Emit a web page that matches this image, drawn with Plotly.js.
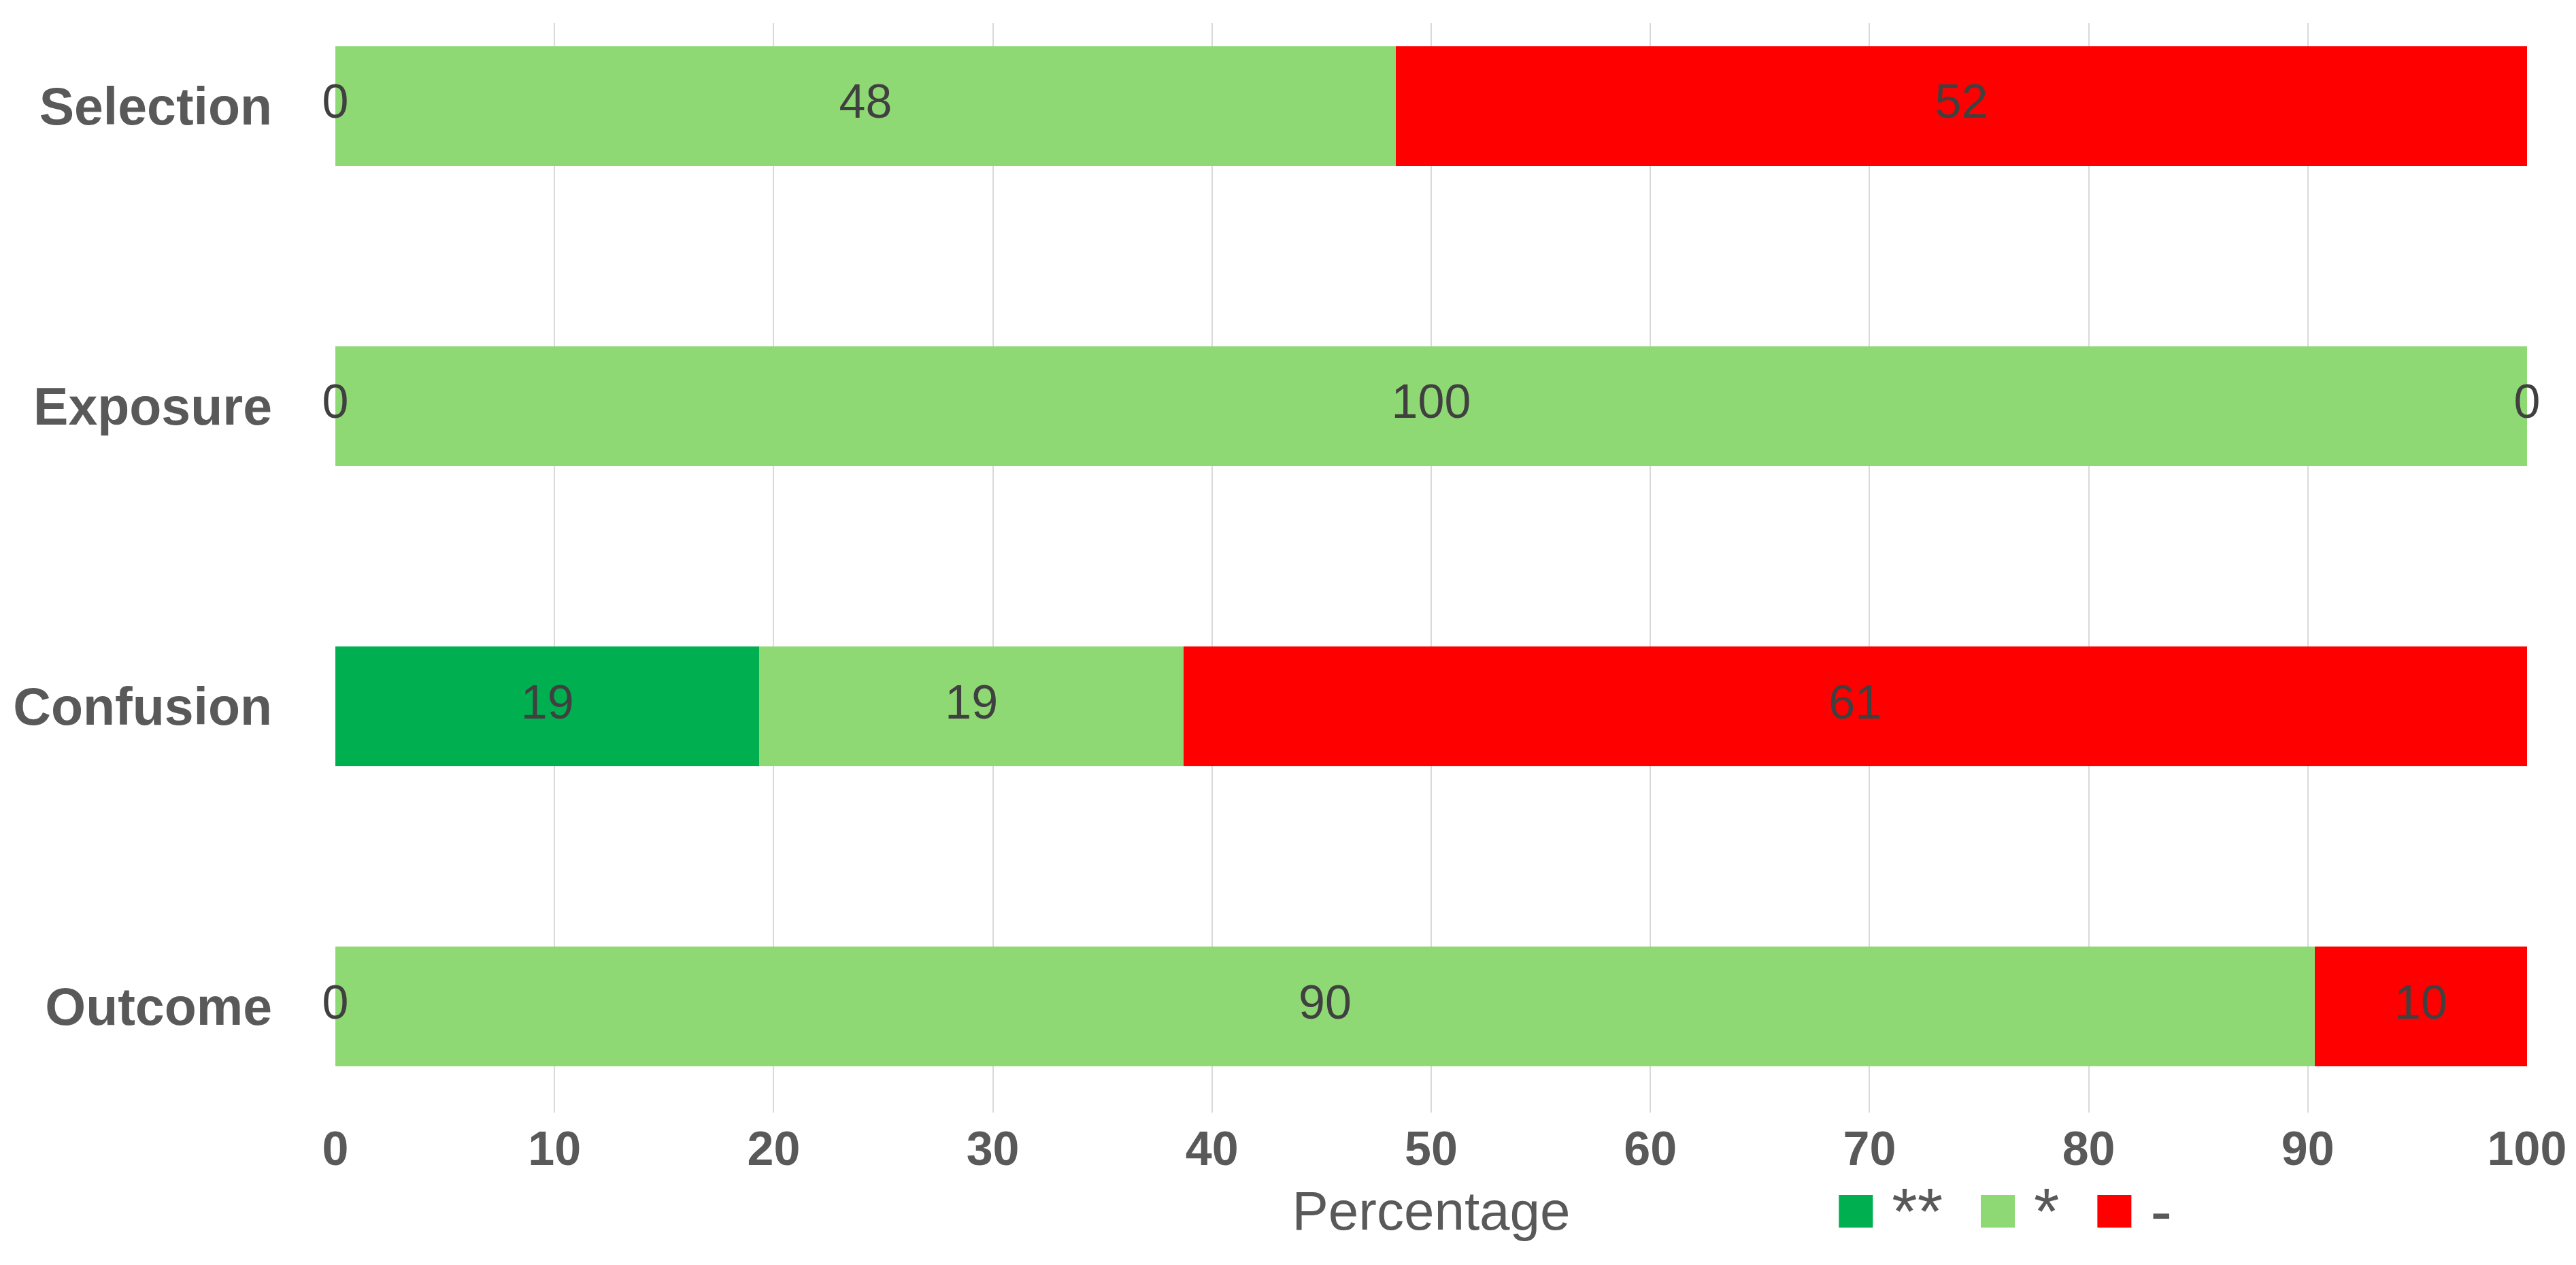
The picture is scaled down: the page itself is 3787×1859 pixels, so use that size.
<!DOCTYPE html>
<html>
<head>
<meta charset="utf-8">
<script src="https://cdn.plot.ly/plotly-3.0.1.min.js"></script>
<style>html,body{margin:0;padding:0;background:#fff;}#chart{width:3787px;height:1859px;}</style>
</head>
<body>
<div id="chart"></div>
<script>
// Categories (top to bottom)
var categories = ['Selection', 'Exposure', 'Confusion', 'Outcome'];
// Series names (legend) and percentages per series
var seriesNames = ['**', '*', '-'];
var twoStars = [0, 0, 19.35, 0];
var oneStar = [48.39, 100, 19.35, 90.32];
var dash = [51.61, 0, 61.29, 9.68];
var xTicks = [0, 10, 20, 30, 40, 50, 60, 70, 80, 90, 100];

var colors = ['#00b050', '#8fd975', '#ff0000'];
var seriesValues = [twoStars, oneStar, dash];

var traces = [];
seriesValues.forEach(function (vals, i) {
  traces.push({
    type: 'bar',
    orientation: 'h',
    name: seriesNames[i],
    y: categories,
    x: vals,
    marker: {color: colors[i], line: {width: 0}},
    hoverinfo: 'x+y+name'
  });
});

// Data labels centred on each segment (including zero-width segments)
var labelX = [], labelY = [], labelT = [];
categories.forEach(function (c, j) {
  var base = 0;
  seriesValues.forEach(function (vals) {
    labelX.push(base + vals[j] / 2);
    labelY.push(c);
    labelT.push(String(Math.round(vals[j])));
    base += vals[j];
  });
});
traces.push({
  type: 'scatter',
  mode: 'text',
  x: labelX,
  y: labelY,
  text: labelT,
  textposition: 'middle center',
  textfont: {family: 'Liberation Sans, Arial, sans-serif', size: 70, color: '#404040'},
  showlegend: false,
  hoverinfo: 'skip',
  cliponaxis: false
});

var legendX = 0.686;   // paper fraction where the legend starts
var legendDrop = 145;  // px below the plot area to the legend centre

var layout = {
  width: 3787,
  height: 1859,
  margin: {l: 493, r: 72, t: 34, b: 201, pad: 0},
  paper_bgcolor: '#ffffff',
  plot_bgcolor: '#ffffff',
  barmode: 'stack',
  bargap: 0.602,
  showlegend: true,
  legend: {
    orientation: 'h',
    traceorder: 'normal',
    x: legendX,
    xanchor: 'left',
    y: -0.089,
    yanchor: 'middle',
    font: {family: 'Liberation Sans, Arial, sans-serif', size: 96, color: '#595959'},
    bgcolor: 'rgba(0,0,0,0)'
  },
  xaxis: {
    range: [0, 100],
    tickvals: xTicks,
    ticktext: xTicks.map(String),
    showgrid: true,
    gridcolor: '#d9d9d9',
    gridwidth: 2,
    zeroline: false,
    showline: false,
    ticks: '',
    ticklabelstandoff: 6,
    tickfont: {family: 'Liberation Sans, Arial, sans-serif', size: 70, color: '#595959', weight: 'bold'},
    title: {
      text: 'Percentage',
      font: {family: 'Liberation Sans, Arial, sans-serif', size: 80, color: '#595959'},
      standoff: 24
    }
  },
  yaxis: {
    type: 'category',
    categoryorder: 'array',
    categoryarray: categories,
    range: [3.353, -0.276],
    showgrid: false,
    zeroline: false,
    showline: false,
    ticks: '',
    ticklabelstandoff: 92,
    tickfont: {family: 'Liberation Sans, Arial, sans-serif', size: 77, color: '#595959', weight: 'bold'}
  },
  font: {family: 'Liberation Sans, Arial, sans-serif', color: '#595959'}
};

Plotly.newPlot('chart', traces, layout, {displayModeBar: false, responsive: false}).then(function (gd) {
  // Restyle the legend: large square swatches laid out like the original
  var sz = gd._fullLayout._size;
  var legend = gd.querySelector('.legend');
  if (!legend) return;
  legend.setAttribute('transform', 'translate(0,0)');
  legend.removeAttribute('clip-path');
  var bg = legend.querySelector('rect.bg');
  if (bg) bg.setAttribute('width', 0);
  var sb = legend.querySelector('.scrollbox');
  if (sb) { sb.removeAttribute('clip-path'); sb.setAttribute('transform', 'translate(0,0)'); }
  var grp = legend.querySelectorAll('.groups');
  grp.forEach(function (g) { g.setAttribute('transform', 'translate(0,0)'); });
  var xPos = sz.l + legendX * sz.w;
  var yc = sz.t + sz.h + legendDrop;
  var items = legend.querySelectorAll('g.traces');
  items.forEach(function (g) {
    g.setAttribute('transform', 'translate(' + xPos + ',' + yc + ')');
    g.querySelectorAll('.layers, .legendsymbols, .legendpoints').forEach(function (n) {
      n.removeAttribute('transform');
    });
    var p = g.querySelector('.legendpoints path');
    if (p) { p.setAttribute('d', 'M0,-24H50V24H0Z'); p.removeAttribute('transform'); }
    var t = g.querySelector('text.legendtext');
    var w = 40;
    if (t) {
      t.setAttribute('x', 78);
      t.setAttribute('y', 33);
      t.setAttribute('text-anchor', 'start');
      w = t.getComputedTextLength();
    }
    xPos += 78 + w + 56;
  });
});
</script>
</body>
</html>
